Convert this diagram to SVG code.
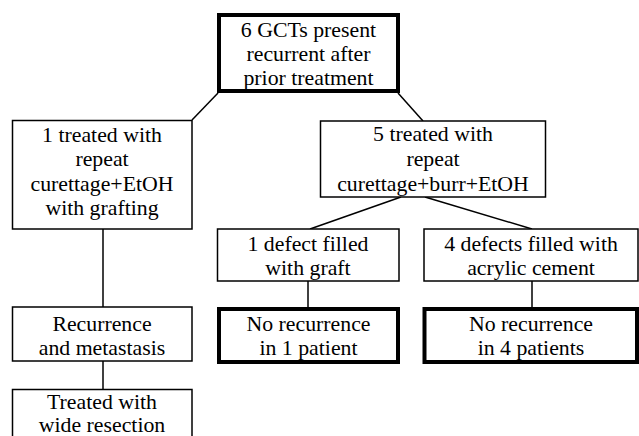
<svg xmlns="http://www.w3.org/2000/svg" width="639" height="436" viewBox="0 0 639 436">
<style>
.thin{fill:#fff;stroke:#000;stroke-width:1.5}
.thick{fill:#fff;stroke:#000;stroke-width:4}
.ln{stroke:#000;stroke-width:1.5;fill:none}
text{font-family:"Liberation Serif",serif;font-size:21.8px;fill:#000;text-anchor:middle}
</style>
<rect width="639" height="436" fill="#fff"/>
<g id="connectors">
<line class="ln" x1="218" y1="93" x2="192" y2="120"/>
<line class="ln" x1="398" y1="93" x2="423" y2="121"/>
<line class="ln" x1="401" y1="197" x2="310" y2="229"/>
<line class="ln" x1="425" y1="197" x2="532" y2="229"/>
<line class="ln" x1="103" y1="229" x2="103" y2="307"/>
<line class="ln" x1="103" y1="361" x2="103" y2="389"/>
<line class="ln" x1="308" y1="281" x2="308" y2="309"/>
<line class="ln" x1="532" y1="281" x2="532" y2="309"/>
</g>
<g id="top">
<rect class="thick" x="219" y="15" width="179" height="76"/>
<text x="308.5" y="37">6 GCTs present</text>
<text x="308.5" y="61">recurrent after</text>
<text x="308.5" y="85">prior treatment</text>
</g>
<g id="left1">
<rect class="thin" x="12.5" y="120.5" width="179.5" height="108.5"/>
<text x="102" y="142">1 treated with</text>
<text x="102" y="166">repeat</text>
<text x="102" y="191">curettage+EtOH</text>
<text x="102" y="215">with grafting</text>
</g>
<g id="right1">
<rect class="thin" x="320.5" y="121" width="225" height="76"/>
<text x="433" y="141">5 treated with</text>
<text x="433" y="166">repeat</text>
<text x="433" y="191">curettage+burr+EtOH</text>
</g>
<g id="graft">
<rect class="thin" x="217.5" y="229" width="181.5" height="52"/>
<text x="308" y="251">1 defect filled</text>
<text x="308" y="275">with graft</text>
</g>
<g id="cement">
<rect class="thin" x="424" y="229" width="214" height="52"/>
<text x="531" y="251">4 defects filled with</text>
<text x="531" y="275">acrylic cement</text>
</g>
<g id="nr1">
<rect class="thick" x="219" y="309" width="179" height="53"/>
<text x="308.5" y="331">No recurrence</text>
<text x="308.5" y="355">in 1 patient</text>
</g>
<g id="nr4">
<rect class="thick" x="424.5" y="309" width="212.5" height="53"/>
<text x="531" y="331">No recurrence</text>
<text x="531" y="355">in 4 patients</text>
</g>
<g id="recurrence">
<rect class="thin" x="12.5" y="307" width="179.5" height="54"/>
<text x="102" y="331">Recurrence</text>
<text x="102" y="355">and metastasis</text>
</g>
<g id="resection">
<rect class="thin" x="12.5" y="389.5" width="179.5" height="60"/>
<text x="102" y="409">Treated with</text>
<text x="102" y="432">wide resection</text>
</g>
</svg>
